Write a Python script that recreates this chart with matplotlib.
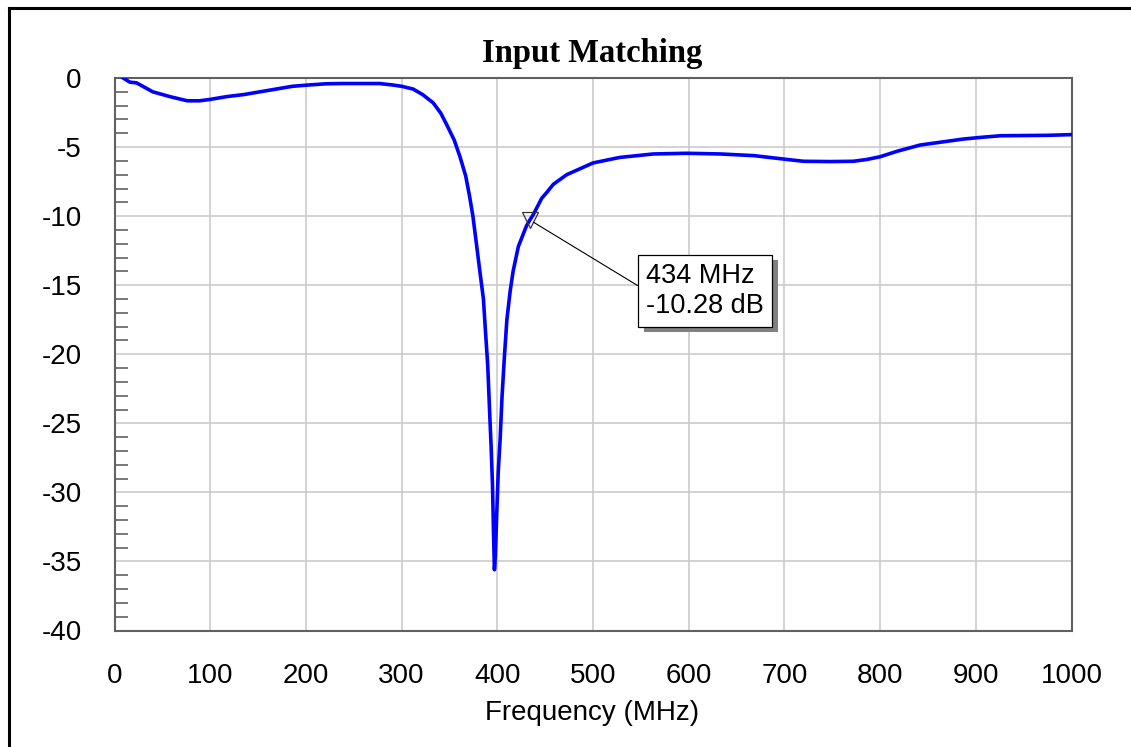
# -------------------------------------------------------------
# Import libraries
# -------------------------------------------------------------
import matplotlib
matplotlib.use("Agg")
import matplotlib.pyplot as plt
import matplotlib.patheffects as pe
from matplotlib.lines import Line2D
from matplotlib.ticker import MultipleLocator


# -------------------------------------------------------------
# Data: S11
# -------------------------------------------------------------
freq_mhz = [9, 16, 23, 40, 58, 76, 89, 100, 117, 135, 152, 169, 186, 204,
            221, 238, 260, 277, 290, 300, 312, 322, 333, 341, 348, 355, 361,
            367, 371, 374.5, 378, 381.5, 385.5, 387.5, 390, 392, 393.5, 395,
            396, 397, 398, 399.5, 401, 403, 405, 407.5, 410, 413.5, 416.5,
            422, 430.5, 434, 437.5, 446.5, 451.5, 458.5, 472.5, 500, 528,
            563, 598, 633, 668, 703, 720, 748, 772, 786, 800, 818, 842, 863,
            887, 905, 926, 975, 1000]
s11_db = [0.0, -0.3, -0.35, -1.0, -1.35, -1.65, -1.65, -1.55, -1.35, -1.2,
          -1.0, -0.8, -0.6, -0.5, -0.42, -0.4, -0.4, -0.4, -0.5, -0.6, -0.8,
          -1.2, -1.8, -2.55, -3.5, -4.5, -5.7, -7.1, -8.55, -10.0, -11.9,
          -13.85, -16.0, -18.2, -20.8, -24.2, -26.6, -29.5, -32.8, -35.6,
          -34.5, -31.4, -28.5, -26.1, -23.0, -20.1, -17.5, -15.4, -14.0,
          -12.2, -10.7, -10.28, -9.9, -8.7, -8.3, -7.7, -7.0, -6.15, -5.75,
          -5.5, -5.45, -5.5, -5.62, -5.9, -6.03, -6.05, -6.03, -5.9, -5.7,
          -5.3, -4.85, -4.65, -4.42, -4.3, -4.18, -4.15, -4.1]

marker_freq = 434
marker_db = -10.28
marker_label = f"{marker_freq} MHz\n{marker_db:.2f} dB"

x_ticks = list(range(0, 1001, 100))
y_ticks = list(range(-40, 1, 5))


# -------------------------------------------------------------
# Plot
# -------------------------------------------------------------
def plot_input_matching():
    plt.rcParams['font.family'] = ['Liberation Sans', 'DejaVu Sans']
    plt.rcParams['axes.unicode_minus'] = False

    W, H = 1131, 747
    fig = plt.figure(figsize=(W / 100, H / 100), dpi=100)
    ax = fig.add_axes([114.5 / W, 1 - 630.5 / H, (1071.5 - 114.5) / W,
                       (630.5 - 78) / H])

    # curve
    ax.plot(freq_mhz, s11_db, color='#0000ff', lw=2.6, zorder=3)

    # axes and grid
    ax.set_xlim(0, 1000)
    ax.set_ylim(-40, 0)
    ax.set_xticks(x_ticks)
    ax.set_yticks(y_ticks)
    ax.yaxis.set_minor_locator(MultipleLocator(1))
    ax.grid(True, which='major', color='#c8c8c8', lw=1.1)
    ax.set_axisbelow(True)
    ax.tick_params(which='major', length=0, pad=23.5, labelsize=20)
    ax.tick_params(axis='y', which='minor', direction='in', length=9.5,
                   width=1.1, color='#555555')
    for s in ax.spines.values():
        s.set_color('#606060')
        s.set_linewidth(1.5)

    # marker + label box
    ax.plot([marker_freq], [marker_db], marker='v', ms=11, mfc='none',
            mec='#333333', mew=0.9, zorder=4)
    ann = ax.annotate(marker_label, xy=(marker_freq, marker_db),
                      xytext=(617, -15.4), ha='center', va='center',
                      multialignment='left', fontsize=19.5,
                      bbox=dict(boxstyle='square,pad=0.3', fc='white',
                                ec='black', lw=0.9),
                      arrowprops=dict(arrowstyle='-', color='black', lw=0.8,
                                      relpos=(0, 0.5), shrinkA=0, shrinkB=3),
                      zorder=5)
    ann.get_bbox_patch().set_path_effects(
        [pe.SimplePatchShadow(offset=(4, -4), shadow_rgbFace='#808080',
                              alpha=1.0), pe.Normal()])

    # title and axis label
    fig.text(592 / W, 1 - 62 / H, 'Input Matching', ha='center',
             va='baseline', fontsize=23.5, fontweight='bold',
             family=['Liberation Serif', 'DejaVu Serif'])
    fig.text(592 / W, 1 - 720 / H, 'Frequency (MHz)', ha='center',
             va='baseline', fontsize=20)

    # outer frame (left and top edges only are visible)
    fig.add_artist(Line2D([8.5 / W, 8.5 / W], [0, 1 - 7.5 / H],
                          color='black', lw=2.2))
    fig.add_artist(Line2D([8.5 / W, 1], [1 - 7.5 / H, 1 - 7.5 / H],
                          color='black', lw=2.2))

    fig.savefig('out.png', dpi=100, facecolor='white')


def main():
    plot_input_matching()


if __name__ == "__main__":
    main()
